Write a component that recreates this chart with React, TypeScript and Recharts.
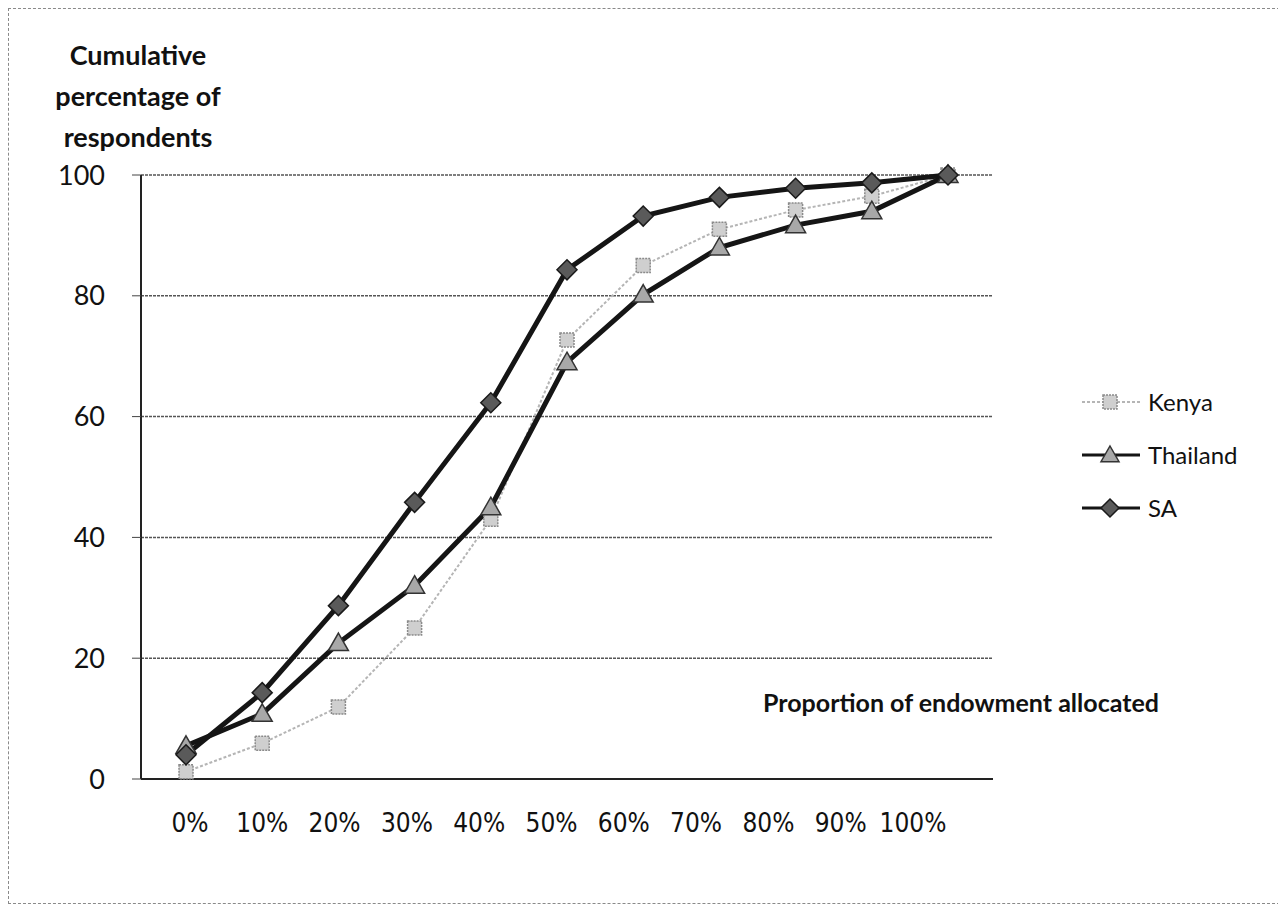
import React from 'react';
import { LineChart, Line, XAxis, YAxis, CartesianGrid } from 'recharts';

// Proportion of endowment allocated (x categories)
const categories = ['0%', '10%', '20%', '30%', '40%', '50%', '60%', '70%', '80%', '90%', '100%'];
// cumulative % of respondents
const kenya = [1.2, 5.9, 11.9, 25, 43, 72.7, 85, 91, 94.2, 96.5, 100];
const thailand = [5.5, 10.8, 22.5, 32, 45, 69, 80.2, 88, 91.7, 94, 100];
const sa = [4, 14.3, 28.7, 45.8, 62.3, 84.3, 93.2, 96.3, 97.8, 98.7, 100];
const yTicks = [0, 20, 40, 60, 80, 100];

const data = categories.map((c, i) => ({ cat: c, Kenya: kenya[i], Thailand: thailand[i], SA: sa[i] }));

const FONT = 'Lato, "Open Sans", sans-serif';

const Square = ({ cx, cy, size = 7 }: any) => (
  <rect x={cx - size} y={cy - size} width={size * 2} height={size * 2} fill="#cfcfcf" stroke="#8a8a8a" strokeWidth={1.5} strokeDasharray="2 1" />
);
const Triangle = ({ cx, cy, size = 10 }: any) => (
  <path d={`M${cx},${cy - size} L${cx + size},${cy + size * 0.75} L${cx - size},${cy + size * 0.75} Z`} fill="#a8a8a8" stroke="#333" strokeWidth={1.5} />
);
const Diamond = ({ cx, cy, size = 10 }: any) => (
  <path d={`M${cx},${cy - size} L${cx + size},${cy} L${cx},${cy + size} L${cx - size},${cy} Z`} fill="#5a5a5a" stroke="#1a1a1a" strokeWidth={1.5} />
);

const series = [
  { key: 'Kenya', color: '#b5b5b5', width: 2, dash: '3 2', Marker: Square },
  { key: 'Thailand', color: '#151515', width: 5, dash: undefined, Marker: Triangle },
  { key: 'SA', color: '#151515', width: 5, dash: undefined, Marker: Diamond },
];

const LegendBox = () => (
  <div style={{ position: 'absolute', left: 1071, top: 366, fontFamily: FONT, fontSize: 24, color: '#111' }}>
    {series.map((s) => (
      <div key={s.key} style={{ display: 'flex', alignItems: 'center', height: 53 }}>
        <svg width={64} height={26}>
          <line x1={2} y1={13} x2={60} y2={13} stroke={s.color} strokeWidth={s.key === 'Kenya' ? 2 : 3} strokeDasharray={s.dash} />
          <s.Marker cx={30} cy={13} size={s.key === 'Kenya' ? 7 : 9} />
        </svg>
        <span style={{ marginLeft: 4 }}>{s.key}</span>
      </div>
    ))}
  </div>
);

export default function App() {
  return (
    <div style={{ position: 'relative', width: 1270, height: 894, border: '1px dashed #8a8a8a', background: '#fff' }}>
      <div
        style={{
          position: 'absolute', left: 34, top: 25, width: 190, textAlign: 'center',
          fontFamily: FONT, fontWeight: 700, fontSize: 27, lineHeight: '41px', color: '#111',
        }}
      >
        Cumulative<br />percentage of<br />respondents
      </div>
      <div
        style={{
          position: 'absolute', left: 754, top: 678, fontFamily: FONT, fontWeight: 700,
          fontSize: 25, color: '#111', whiteSpace: 'nowrap', zIndex: 2,
        }}
      >
        Proportion of endowment allocated
      </div>
      <LegendBox />
      <LineChart width={1270} height={890} data={data} margin={{ top: 166, right: 286, left: 0, bottom: 50 }}>
        <CartesianGrid vertical={false} stroke="#555" strokeWidth={1.5} strokeDasharray="3 1" />
        <XAxis
          dataKey="cat" xAxisId="a" height={10} tick={false} tickLine={false}
          axisLine={{ stroke: '#222', strokeWidth: 2 }} padding={{ left: 45, right: 45 }}
        />
        <XAxis
          dataKey="cat" xAxisId="b" height={60} axisLine={false} tickLine={false} tickSize={0}
          tickMargin={25} interval={0} padding={{ left: 49, right: 80 }}
          tick={{ fill: '#111', fontSize: 26, fontFamily: '"Liberation Sans Narrow", "DejaVu Sans Condensed", sans-serif' }}
        />
        <YAxis
          domain={[0, 100]} ticks={yTicks} width={132} tickSize={9} tickMargin={27}
          axisLine={{ stroke: '#222', strokeWidth: 2 }} tickLine={{ stroke: '#444' }}
          tick={{ fill: '#111', fontSize: 27, fontFamily: FONT }}
        />
        {series.map((s) => (
          <Line
            key={s.key} xAxisId="a" dataKey={s.key} stroke={s.color} strokeWidth={s.width}
            strokeDasharray={s.dash} isAnimationActive={false}
            dot={(p: any) => <s.Marker key={`${s.key}-${p.index}`} cx={p.cx} cy={p.cy} />}
            activeDot={false}
          />
        ))}
      </LineChart>
    </div>
  );
}
